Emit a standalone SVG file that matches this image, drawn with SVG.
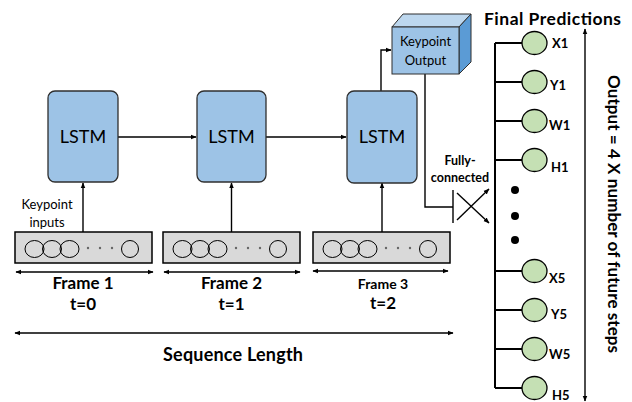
<svg xmlns="http://www.w3.org/2000/svg" width="632" height="402" viewBox="0 0 632 402">
<defs>
<marker id="ah" viewBox="0 0 10 10" refX="9" refY="5" markerWidth="6" markerHeight="6" markerUnits="userSpaceOnUse" orient="auto-start-reverse">
<path d="M0,1 L10,5 L0,9 z" fill="#000"/>
</marker>
<style>
.lstm{fill:#9DC3E6;stroke:#2f2f2f;stroke-width:1.3}
.frame{fill:#D9D9D9;stroke:#000;stroke-width:1.5}
.inp{fill:none;stroke:#000;stroke-width:1}
.dot3{fill:#666}
.ln{fill:none;stroke:#000;stroke-width:1.4}
.bus{fill:none;stroke:#000;stroke-width:2}
.out{fill:#C5E0B4;stroke:#000;stroke-width:1.3}
.t{font-family:Lato,"Liberation Sans",sans-serif;fill:#000}
.b{font-weight:bold}
.c{text-anchor:middle}
</style>
</defs>
<rect width="632" height="402" fill="#fff"/>

<g id="connectors">
<line class="ln" x1="118" y1="137" x2="196" y2="137" marker-end="url(#ah)"/>
<line class="ln" x1="266" y1="137" x2="346" y2="137" marker-end="url(#ah)"/>
<line class="ln" x1="83" y1="232" x2="83" y2="183" marker-end="url(#ah)"/>
<line class="ln" x1="231.5" y1="232" x2="231.5" y2="183" marker-end="url(#ah)"/>
<line class="ln" x1="382" y1="232" x2="382" y2="183" marker-end="url(#ah)"/>
<polyline class="ln" points="381,91 381,50 391,50" marker-end="url(#ah)"/>
<polyline class="ln" points="425,74 425,207 453,207"/>
<line class="ln" x1="453" y1="190" x2="453" y2="223"/>
<line class="ln" x1="457" y1="220" x2="489" y2="189" marker-end="url(#ah)"/>
<line class="ln" x1="457" y1="193" x2="489" y2="223" marker-end="url(#ah)"/>
<line class="bus" x1="495" y1="43" x2="495" y2="388"/>
<g class="bus">
<line x1="495" y1="43" x2="522" y2="43"/>
<line x1="495" y1="82" x2="522" y2="82"/>
<line x1="495" y1="121" x2="522" y2="121"/>
<line x1="495" y1="160" x2="522" y2="160"/>
<line x1="495" y1="271" x2="522" y2="271"/>
<line x1="495" y1="310" x2="522" y2="310"/>
<line x1="495" y1="349" x2="522" y2="349"/>
<line x1="495" y1="388" x2="522" y2="388"/>
</g>
<line class="ln" x1="16" y1="272" x2="153" y2="272" stroke-width="1.2" marker-start="url(#ah)" marker-end="url(#ah)"/>
<line class="ln" x1="164" y1="272" x2="300" y2="272" stroke-width="1.2" marker-start="url(#ah)" marker-end="url(#ah)"/>
<line class="ln" x1="313" y1="271" x2="448" y2="271" stroke-width="1.2" marker-start="url(#ah)" marker-end="url(#ah)"/>
<line class="ln" x1="15" y1="333" x2="453" y2="333" stroke-width="1.2" marker-start="url(#ah)" marker-end="url(#ah)"/>
<line class="ln" x1="585" y1="29" x2="585" y2="401" stroke-width="1.2" marker-start="url(#ah)" marker-end="url(#ah)"/>
</g>

<g id="lstm1"><rect class="lstm" x="48" y="91" width="70" height="91" rx="7"/><text class="t c" x="83" y="143" font-size="18">LSTM</text></g>
<g id="lstm2"><rect class="lstm" x="197" y="91" width="69" height="91" rx="7"/><text class="t c" x="231.5" y="143" font-size="18">LSTM</text></g>
<g id="lstm3"><rect class="lstm" x="347" y="91" width="70" height="92" rx="7"/><text class="t c" x="382" y="143" font-size="18">LSTM</text></g>

<g id="frame1">
<rect class="frame" x="15" y="232" width="137" height="31"/>
<ellipse class="inp" cx="34.5" cy="249" rx="9.5" ry="8.5"/><ellipse class="inp" cx="52" cy="249" rx="9.5" ry="8.5"/><ellipse class="inp" cx="69.5" cy="249" rx="9.5" ry="8.5"/>
<circle class="dot3" cx="88" cy="248" r="1.2"/><circle class="dot3" cx="100" cy="248" r="1.2"/><circle class="dot3" cx="112" cy="248" r="1.2"/>
<ellipse class="inp" cx="130" cy="249" rx="8.5" ry="8.5"/>
</g>
<g id="frame2">
<rect class="frame" x="163" y="232" width="137" height="31"/>
<ellipse class="inp" cx="182.5" cy="249" rx="9.5" ry="8.5"/><ellipse class="inp" cx="200" cy="249" rx="9.5" ry="8.5"/><ellipse class="inp" cx="217.5" cy="249" rx="9.5" ry="8.5"/>
<circle class="dot3" cx="236" cy="248" r="1.2"/><circle class="dot3" cx="248" cy="248" r="1.2"/><circle class="dot3" cx="260" cy="248" r="1.2"/>
<ellipse class="inp" cx="278" cy="249" rx="8.5" ry="8.5"/>
</g>
<g id="frame3">
<rect class="frame" x="313" y="232" width="137" height="31"/>
<ellipse class="inp" cx="332.5" cy="249" rx="9.5" ry="8.5"/><ellipse class="inp" cx="350" cy="249" rx="9.5" ry="8.5"/><ellipse class="inp" cx="367.5" cy="249" rx="9.5" ry="8.5"/>
<circle class="dot3" cx="386" cy="248" r="1.2"/><circle class="dot3" cx="398" cy="248" r="1.2"/><circle class="dot3" cx="410" cy="248" r="1.2"/>
<ellipse class="inp" cx="428" cy="249" rx="8.5" ry="8.5"/>
</g>

<g id="keypoint-output">
<polygon points="392,27 403,14 471,14 459,27" fill="#BDD7EE" stroke="#2f2f2f" stroke-width="1"/>
<polygon points="459,27 471,14 471,62 459,74" fill="#5B9BD5" stroke="#2f2f2f" stroke-width="1"/>
<rect x="392" y="27" width="67" height="47" fill="#9DC3E6" stroke="#2f2f2f" stroke-width="1"/>
<text class="t c" x="425.5" y="46" font-size="13">Keypoint</text>
<text class="t c" x="425.5" y="65" font-size="13">Output</text>
</g>

<g id="labels">
<text class="t c" x="47" y="209" font-size="13">Keypoint</text>
<text class="t c" x="47" y="227" font-size="13">inputs</text>
<text class="t c b" x="83" y="289" font-size="17">Frame 1</text>
<text class="t c b" x="83" y="310" font-size="17">t=0</text>
<text class="t c b" x="231.5" y="289" font-size="17">Frame 2</text>
<text class="t c b" x="231.5" y="310" font-size="17">t=1</text>
<text class="t c b" x="383" y="289" font-size="14">Frame 3</text>
<text class="t c b" x="383" y="309" font-size="17">t=2</text>
<text class="t c b" x="233" y="361" font-size="18" textLength="140">Sequence Length</text>
<text class="t c b" x="460" y="165" font-size="12.5">Fully-</text>
<text class="t c b" x="460" y="181.5" font-size="12.5">connected</text>
<text class="t c b" x="552.5" y="25" font-size="17.5" textLength="137">Final Predictions</text>
<text class="t c b" transform="translate(608,214) rotate(90)" font-size="17" textLength="278">Output = 4 X number of future steps</text>
</g>

<g id="dots">
<circle cx="515" cy="190" r="4" fill="#000"/>
<circle cx="515" cy="216" r="4" fill="#000"/>
<circle cx="515" cy="240" r="4" fill="#000"/>
</g>

<g id="out-x1"><ellipse class="out" cx="534.5" cy="43" rx="12.5" ry="11.5"/><text class="t b" x="552" y="48" font-size="13">X1</text></g>
<g id="out-y1"><ellipse class="out" cx="534.5" cy="82" rx="12.5" ry="11.5"/><text class="t b" x="550" y="90" font-size="13">Y1</text></g>
<g id="out-w1"><ellipse class="out" cx="534.5" cy="121" rx="12.5" ry="11.5"/><text class="t b" x="549" y="130" font-size="13">W1</text></g>
<g id="out-h1"><ellipse class="out" cx="534.5" cy="160" rx="12.5" ry="11.5"/><text class="t b" x="551" y="172" font-size="13">H1</text></g>
<g id="out-x5"><ellipse class="out" cx="534.5" cy="271" rx="12.5" ry="11.5"/><text class="t b" x="549" y="283" font-size="13">X5</text></g>
<g id="out-y5"><ellipse class="out" cx="534.5" cy="310" rx="12.5" ry="11.5"/><text class="t b" x="551" y="319" font-size="13">Y5</text></g>
<g id="out-w5"><ellipse class="out" cx="534.5" cy="349" rx="12.5" ry="11.5"/><text class="t b" x="549" y="359" font-size="13">W5</text></g>
<g id="out-h5"><ellipse class="out" cx="534.5" cy="388" rx="12.5" ry="11.5"/><text class="t b" x="552" y="400" font-size="13">H5</text></g>
</svg>
